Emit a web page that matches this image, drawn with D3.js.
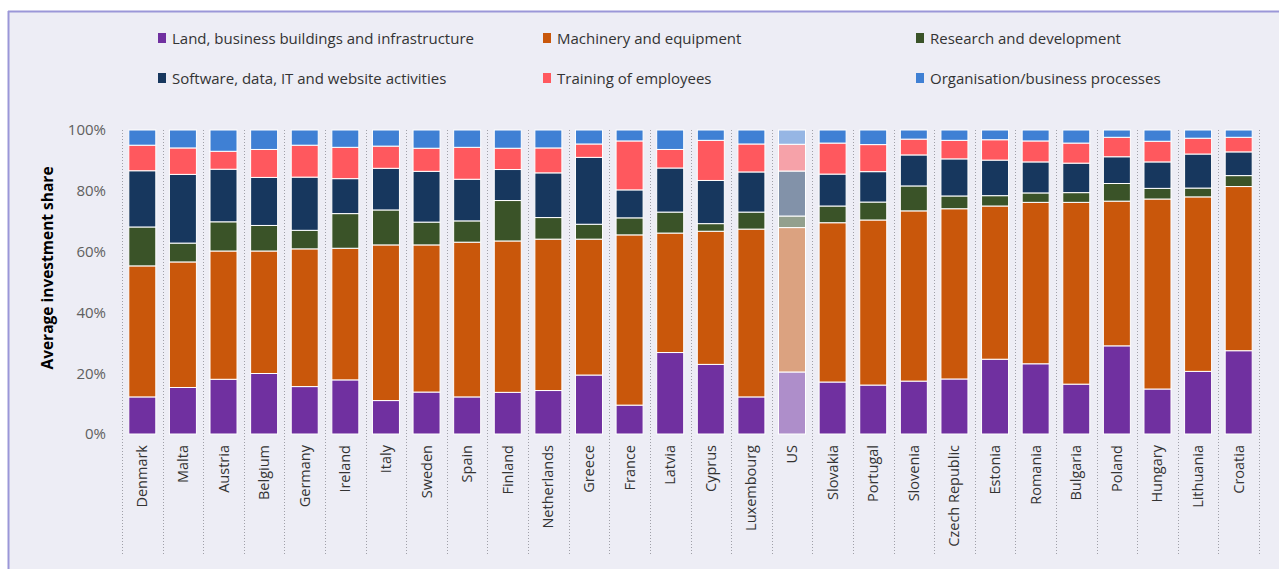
<!DOCTYPE html>
<meta charset="utf-8">
<html>
<head>
<style>
  body { margin: 0; background: #ffffff; }
  #chart { position: absolute; left: 0; top: 0; }
  text { font-family: "Open Sans", "Noto Sans", sans-serif; }
</style>
</head>
<body>
<div id="chart"></div>
<script src="https://d3js.org/d3.v7.min.js"></script>
<script>
  var countries = ["Denmark", "Malta", "Austria", "Belgium", "Germany", "Ireland", "Italy", "Sweden",
    "Spain", "Finland", "Netherlands", "Greece", "France", "Latvia", "Cyprus", "Luxembourg", "US",
    "Slovakia", "Portugal", "Slovenia", "Czech Republic", "Estonia", "Romania", "Bulgaria", "Poland",
    "Hungary", "Lithuania", "Croatia"];

  var land     = [12.2, 15.3, 18.0, 19.9, 15.6, 17.8, 11.0, 13.8, 12.2, 13.7, 14.3, 19.4, 9.5, 26.8, 22.9, 12.2, 20.4, 17.1, 16.1, 17.4, 18.1, 24.6, 23.1, 16.4, 29.0, 14.8, 20.6, 27.4];
  var machinery= [43.1, 41.3, 42.2, 40.3, 45.3, 43.3, 51.2, 48.4, 50.9, 49.8, 49.8, 44.7, 56.0, 39.3, 43.8, 55.2, 47.5, 52.4, 54.3, 56.0, 56.0, 50.4, 53.1, 59.8, 47.6, 62.5, 57.4, 54.0];
  var research = [12.8, 6.2, 9.6, 8.4, 6.1, 11.4, 11.5, 7.5, 7.0, 13.3, 7.1, 4.9, 5.6, 6.9, 2.5, 5.6, 3.8, 5.5, 5.9, 8.2, 4.2, 3.4, 3.1, 3.2, 5.8, 3.5, 2.9, 3.6];
  var software = [18.5, 22.6, 17.3, 15.8, 17.5, 11.5, 13.7, 16.7, 13.7, 10.2, 14.7, 22.0, 9.2, 14.5, 14.2, 13.2, 14.8, 10.5, 10.0, 10.2, 12.2, 11.7, 10.2, 9.7, 8.8, 8.7, 11.2, 7.8];
  var training = [8.4, 8.7, 5.9, 9.2, 10.5, 10.3, 7.3, 7.6, 10.5, 7.0, 8.2, 4.4, 16.1, 6.1, 13.2, 9.2, 8.8, 10.2, 8.9, 5.2, 6.1, 6.7, 6.9, 6.6, 6.4, 6.8, 5.2, 4.8];
  var organisation = [5.0, 5.9, 7.0, 6.4, 5.0, 5.7, 5.3, 6.0, 5.7, 6.0, 5.9, 4.6, 3.6, 6.4, 3.4, 4.6, 4.7, 4.3, 4.8, 3.0, 3.4, 3.2, 3.6, 4.3, 2.4, 3.7, 2.7, 2.4];

  var seriesNames = ["Land, business buildings and infrastructure", "Machinery and equipment",
    "Research and development", "Software, data, IT and website activities",
    "Training of employees", "Organisation/business processes"];
  var seriesColors = ["#7030a0", "#c9570b", "#3a5328", "#17375e", "#ff585e", "#3f80d4"];
  var yTicks = [0, 20, 40, 60, 80, 100];

  var keys = ["land", "machinery", "research", "software", "training", "organisation"];
  var table = countries.map(function(c, i) {
    return { country: c, land: land[i], machinery: machinery[i], research: research[i],
             software: software[i], training: training[i], organisation: organisation[i] };
  });

  var W = 1279, H = 569;
  var svg = d3.select("#chart").append("svg")
    .attr("width", W).attr("height", H);

  // panel background with border on top and left
  svg.append("rect").attr("x", 8).attr("y", 11).attr("width", W - 8).attr("height", H - 11)
    .attr("fill", "#ededf5");
  svg.append("line").attr("x1", 8).attr("x2", W).attr("y1", 11.5).attr("y2", 11.5)
    .attr("stroke", "#9b97d8").attr("stroke-width", 2);
  svg.append("line").attr("x1", 8.5).attr("x2", 8.5).attr("y1", 11).attr("y2", H)
    .attr("stroke", "#9b97d8").attr("stroke-width", 2);

  var x = d3.scaleBand().domain(countries).range([122, 1259]).paddingInner(0.335).paddingOuter(0.1675);
  var y = d3.scaleLinear().domain([0, 100]).range([434, 130]);

  // dotted separators between categories
  var step = x.step();
  var seps = d3.range(countries.length + 1).map(function(i) { return 122 + i * step; });
  svg.append("g").selectAll("line").data(seps).enter().append("line")
    .attr("x1", function(d) { return Math.round(d) + 0.5; })
    .attr("x2", function(d) { return Math.round(d) + 0.5; })
    .attr("y1", 130).attr("y2", 555)
    .attr("stroke", "#a0a0a8").attr("stroke-width", 1).attr("stroke-dasharray", "1,2");

  var stack = d3.stack().keys(keys)(table);

  svg.append("g").selectAll("g").data(stack).enter().append("g")
    .attr("fill", function(d, i) { return seriesColors[i]; })
    .selectAll("rect").data(function(d) { return d; }).enter().append("rect")
      .attr("x", function(d) { return x(d.data.country); })
      .attr("y", function(d) { return y(d[1]); })
      .attr("width", x.bandwidth())
      .attr("height", function(d) { return y(d[0]) - y(d[1]); })
      .attr("stroke", "#ffffff").attr("stroke-width", 1)
      .attr("fill-opacity", function(d) { return d.data.country == "US" ? 0.5 : 1; });

  // y axis
  var yAxis = svg.append("g").attr("transform", "translate(106,0)")
    .call(d3.axisLeft(y).tickValues(yTicks).tickSize(0).tickPadding(0)
      .tickFormat(function(d) { return d + "%"; }));
  yAxis.select(".domain").remove();
  yAxis.selectAll("text").attr("fill", "#606060").style("font-size", "15px")
    .style("font-family", "'Open Sans', sans-serif");

  svg.append("text")
    .attr("transform", "translate(53,268) rotate(-90)")
    .attr("text-anchor", "middle")
    .attr("fill", "#000")
    .style("font-size", "15.5px").style("font-weight", "bold")
    .text("Average investment share");

  // x labels
  svg.append("g").selectAll("text").data(countries).enter().append("text")
    .attr("transform", function(d) {
      return "translate(" + (x(d) + x.bandwidth() / 2 + 5) + ",445) rotate(-90)";
    })
    .attr("text-anchor", "end")
    .attr("fill", "#333")
    .style("font-size", "14.5px")
    .text(function(d) { return d; });

  // legend
  var legX = [158, 543, 916], legY = [38, 78];
  var leg = svg.append("g").selectAll("g").data(seriesNames).enter().append("g")
    .attr("transform", function(d, i) { return "translate(" + legX[i % 3] + "," + legY[Math.floor(i / 3)] + ")"; });
  leg.append("rect").attr("x", 0).attr("y", -5).attr("width", 8).attr("height", 10)
    .attr("fill", function(d, i) { return seriesColors[i]; });
  leg.append("text").attr("x", 14).attr("y", 5.5)
    .attr("fill", "#333").style("font-size", "15px")
    .text(function(d) { return d; });
</script>
</body>
</html>
